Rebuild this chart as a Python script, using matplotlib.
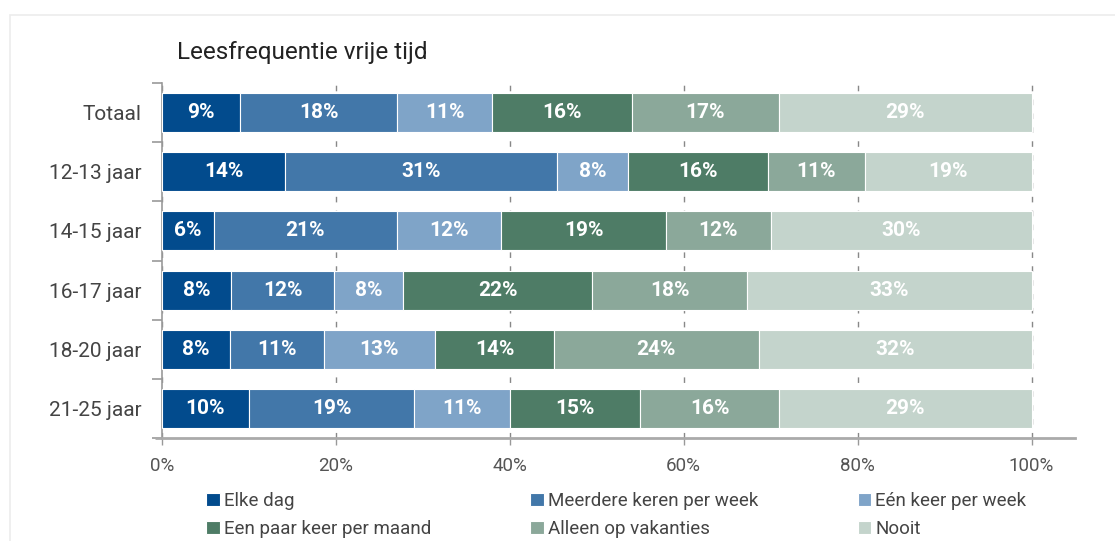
import matplotlib
matplotlib.use('Agg')
import matplotlib.pyplot as plt
import numpy as np
from matplotlib.patches import Rectangle

# data (percentages per age group)
groups = ['Totaal', '12-13 jaar', '14-15 jaar', '16-17 jaar', '18-20 jaar', '21-25 jaar']
elke_dag = [9, 14, 6, 8, 8, 10]
meerdere_keren = [18, 31, 21, 12, 11, 19]
een_keer = [11, 8, 12, 8, 13, 11]
paar_keer_maand = [16, 16, 19, 22, 14, 15]
vakanties = [17, 11, 12, 18, 24, 16]
nooit = [29, 19, 30, 33, 32, 29]

series_names = ['Elke dag', 'Meerdere keren per week', 'Eén keer per week',
                'Een paar keer per maand', 'Alleen op vakanties', 'Nooit']
colors = ['#024b8d', '#4277a9', '#7fa4c8', '#4e7c66', '#8ba89a', '#c4d4cc']
xticks = [0, 20, 40, 60, 80, 100]

plt.rcParams['font.family'] = ['Roboto', 'DejaVu Sans']

data = np.array([elke_dag, meerdere_keren, een_keer, paar_keer_maand, vakanties, nooit], dtype=float)
shares = data / data.sum(axis=0) * 100  # bars are normalised to 100%

fig = plt.figure(figsize=(11.15, 5.41), dpi=100)
ax = fig.add_axes([162 / 1115, 1 - 438 / 541, (1075 - 162) / 1115, (438 - 83) / 541])

# light frame around the chart
fig.patches.append(Rectangle((10 / 1115, -0.1), 1.2, 1 - 15 / 541 + 0.1, transform=fig.transFigure,
                             fill=False, edgecolor='#ececec', linewidth=1.2))

y = np.arange(len(groups))
left = np.zeros(len(groups))
handles = []
for i, name in enumerate(series_names):
    bars = ax.barh(y, shares[i], left=left, height=0.66, color=colors[i],
                   edgecolor='white', linewidth=0.8, label=name, zorder=3)
    handles.append(bars)
    for j in range(len(groups)):
        ax.text(left[j] + shares[i][j] / 2, y[j], f'{int(data[i][j])}%',
                ha='center', va='center', color='white', fontsize=15,
                fontweight='bold', zorder=4)
    left += shares[i]

ax.set_xlim(0, 105)
ax.set_ylim(len(groups) - 0.5, -0.5)

ax.set_xticks(xticks)
ax.set_xticklabels([f'{t}%' for t in xticks], fontsize=13.5, color='#555555')
ax.tick_params(axis='x', length=5, width=1, color='#999999', pad=9)
ax.grid(axis='x', linestyle=(0, (4, 6)), color='#888888', linewidth=1, zorder=0)

ax.set_yticks(y)
ax.set_yticklabels(groups, fontsize=15, color='#444444')
ax.set_yticks(np.arange(len(groups) + 1) - 0.5, minor=True)
ax.tick_params(axis='y', which='major', length=0, pad=15)
ax.tick_params(axis='y', which='minor', length=7, width=1.2, color='#999999')

for s in ['top', 'right']:
    ax.spines[s].set_visible(False)
ax.spines['left'].set_color('#999999')
ax.spines['left'].set_linewidth(1.2)
ax.spines['bottom'].set_color('#aaaaaa')
ax.spines['bottom'].set_linewidth(2)
# bottom axis line sticks out a little to the left
ax.plot([-0.8, 0], [len(groups) - 0.5] * 2, color='#aaaaaa', linewidth=2,
        clip_on=False, solid_capstyle='butt')

fig.text(177 / 1115, 1 - 52 / 541, 'Leesfrequentie vrije tijd', fontsize=17.5,
         color='#222222', ha='left', va='center')

# legend: row-wise order in 3 columns
order = [0, 3, 1, 4, 2, 5]
fig.legend([handles[k] for k in order], [series_names[k] for k in order],
           ncol=3, loc='upper left', bbox_to_anchor=(206 / 1115, 1 - 492 / 541),
           frameon=False, fontsize=13.5, handlelength=0.72, handleheight=0.72,
           handletextpad=0.22, columnspacing=5.3, labelspacing=0.55,
           borderpad=0, borderaxespad=0, labelcolor='#444444')

fig.savefig('out.png', dpi=100)
